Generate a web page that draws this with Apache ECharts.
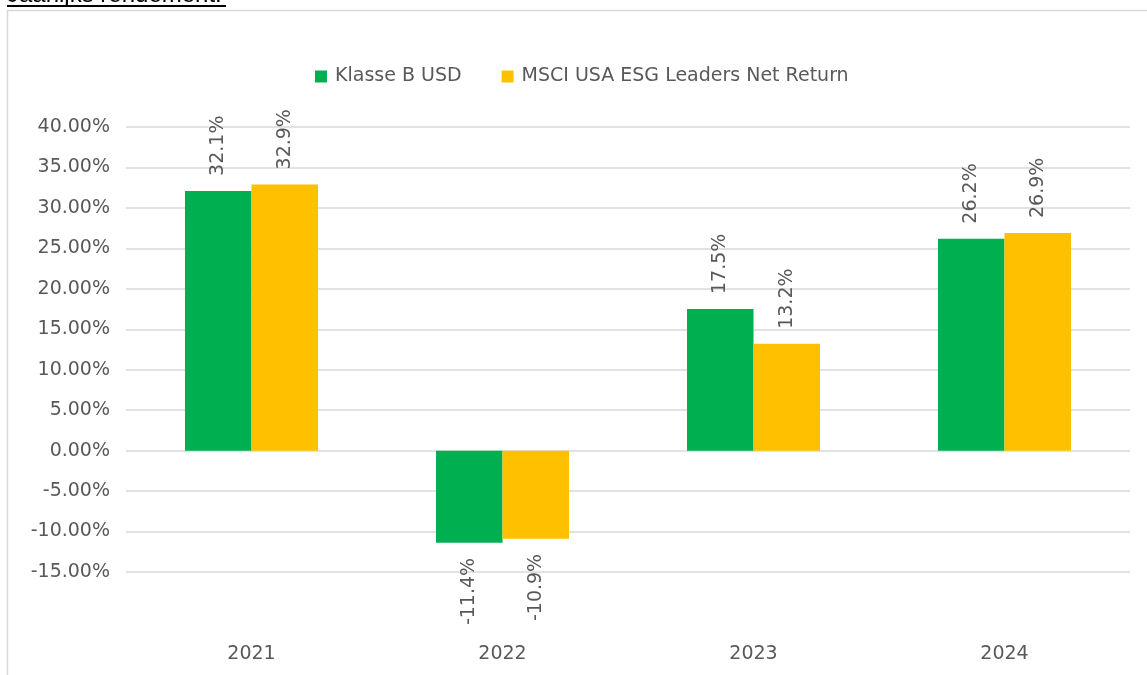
<!DOCTYPE html>
<html>
<head>
  <meta charset="utf-8">
  <title>Jaarlijks rendement</title>
  <script src="https://fastly.jsdelivr.net/npm/echarts@6/dist/echarts.min.js"></script>
</head>
<body style="margin:0;background:#fff;">
<div id="chart-container" style="position: relative;width:1147px;height:675px;overflow:hidden;"></div>
<script type="text/javascript">
  var years = ['2021', '2022', '2023', '2024'];
  var klasseB = [32.1, -11.4, 17.5, 26.2];
  var msci = [32.9, -10.9, 13.2, 26.9];
  var seriesNames = ['Klasse B USD', 'MSCI USA ESG Leaders Net Return'];

  var font = 'DejaVu Sans';
  var textColor = '#595959';

  function withLabels(values) {
    return values.map(function (v) {
      return {
        value: v,
        label: v >= 0
          ? { position: 'top', align: 'left' }
          : { position: 'bottom', align: 'right' }
      };
    });
  }

  var dom = document.getElementById('chart-container');
  var myChart = echarts.init(dom, null, { renderer: 'canvas' });

  var label = {
    show: true,
    rotate: 90,
    distance: 15,
    verticalAlign: 'middle',
    color: textColor,
    fontFamily: font,
    fontSize: 19,
    formatter: function (p) { return p.value.toFixed(1) + '%'; }
  };

  var option = {
    animation: false,
    backgroundColor: '#fff',
    graphic: [
      {
        type: 'rect',
        shape: { x: 7.5, y: 10.5, width: 1160, height: 700 },
        style: { fill: 'none', stroke: '#d9d9d9', lineWidth: 1.5 },
        silent: true
      },
      {
        type: 'text',
        left: 7,
        top: -17,
        style: { text: 'Jaarlijks rendement:', fill: '#000', font: '24px "Liberation Sans"' }
      },
      {
        type: 'rect',
        shape: { x: 7, y: 5, width: 219, height: 2 },
        style: { fill: '#000' },
        silent: true
      }
    ],
    legend: {
      left: 310,
      top: 62,
      icon: 'rect',
      itemWidth: 12,
      itemHeight: 12,
      itemGap: 40,
      textStyle: { color: textColor, fontFamily: font, fontSize: 19, padding: [0, 0, 0, 3] },
      data: seriesNames
    },
    grid: { left: 126, right: 17, top: 127, bottom: 103 },
    xAxis: {
      type: 'category',
      data: years,
      axisLine: { show: false },
      axisTick: { show: false },
      axisLabel: { margin: 73, color: textColor, fontFamily: font, fontSize: 19 }
    },
    yAxis: {
      type: 'value',
      min: -15,
      max: 40,
      interval: 5,
      axisLine: { show: false },
      axisTick: { show: false },
      splitLine: { lineStyle: { color: '#d9d9d9', width: 1.5 } },
      axisLabel: {
        margin: 16,
        color: textColor,
        fontFamily: font,
        fontSize: 19,
        formatter: function (v) { return v.toFixed(2) + '%'; }
      }
    },
    series: [
      {
        name: seriesNames[0],
        type: 'bar',
        barGap: '0%',
        barCategoryGap: '47%',
        itemStyle: { color: '#00B050' },
        label: label,
        data: withLabels(klasseB)
      },
      {
        name: seriesNames[1],
        type: 'bar',
        itemStyle: { color: '#FFC000' },
        label: label,
        data: withLabels(msci)
      }
    ]
  };

  myChart.setOption(option);
  window.addEventListener('resize', myChart.resize);
</script>
</body>
</html>
